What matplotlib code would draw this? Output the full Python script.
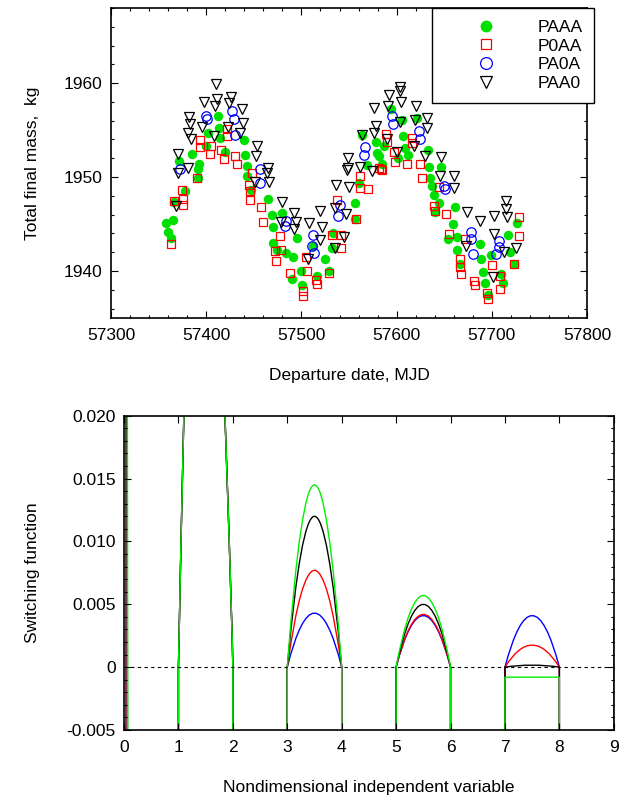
"""Total final mass over departure date (top) and switching functions (bottom)."""

import matplotlib

matplotlib.use("Agg")
import matplotlib.pyplot as plt  # noqa: E402
from matplotlib.patches import PathPatch  # noqa: E402
from matplotlib.path import Path  # noqa: E402
from matplotlib.ticker import FuncFormatter, MultipleLocator  # noqa: E402

plt.rcParams["font.family"] = ["Liberation Sans", "DejaVu Sans"]
plt.rcParams["font.size"] = 12.5

GREEN = "#00e000"
LIME = "#00f000"

# --- top panel: departure date (MJD) vs total final mass (kg) ---
PAAA_X = [57412, 57413, 57402, 57415, 57440, 57385, 57392, 57371, 57441, 57420,
          57400, 57578, 57579, 57569, 57443, 57594, 57606, 57621, 57607, 57587,
          57609, 57612, 57581, 57633, 57601, 57634, 57647, 57585, 57391, 57391,
          57378, 57366, 57365, 57358, 57360, 57363, 57443, 57447, 57465, 57469,
          57480, 57470, 57470, 57474, 57484, 57495, 57491, 57500, 57490, 57501,
          57512, 57516, 57525, 57529, 57532, 57533, 57556, 57556, 57560, 57635,
          57637, 57639, 57644, 57640, 57661, 57659, 57654, 57663, 57663, 57667,
          57688, 57689, 57691, 57693, 57696, 57699, 57710, 57712, 57717, 57719,
          57723, 57726, 57564]
PAAA_Y = [1956.5, 1955.2, 1954.7, 1954.2, 1953.9, 1952.5, 1951.4, 1951.7, 1952.3, 1952.7,
          1953.3, 1953.7, 1952.6, 1951.3, 1951.2, 1957.2, 1956.1, 1956.3, 1954.4, 1953.3,
          1953.1, 1952.3, 1952.2, 1952.9, 1952.0, 1951.1, 1951.1, 1951.4, 1950.9, 1949.9,
          1948.5, 1947.3, 1945.4, 1945.1, 1944.2, 1943.5, 1950.1, 1948.6, 1947.7, 1946.0,
          1946.2, 1944.7, 1943.0, 1942.2, 1941.9, 1943.5, 1941.5, 1940.0, 1939.2, 1938.5,
          1942.7, 1939.5, 1941.3, 1940.0, 1942.5, 1944.1, 1947.2, 1945.5, 1949.4, 1949.9,
          1949.0, 1948.1, 1947.2, 1946.3, 1946.8, 1945.0, 1943.4, 1943.6, 1942.2, 1940.8,
          1942.9, 1941.3, 1939.9, 1938.7, 1937.4, 1941.7, 1939.7, 1938.7, 1943.8, 1942.0,
          1940.7, 1945.1, 1954.5]

P0AA_X = [57394, 57394, 57405, 57404, 57422, 57422, 57416, 57419, 57430, 57432,
          57581, 57589, 57590, 57616, 57616, 57597, 57598, 57611, 57625, 57584,
          57375, 57376, 57376, 57366, 57363, 57390, 57448, 57445, 57446, 57446,
          57458, 57460, 57478, 57472, 57479, 57473, 57488, 57505, 57506, 57502,
          57502, 57515, 57516, 57529, 57537, 57532, 57542, 57542, 57557, 57561,
          57570, 57562, 57585, 57627, 57644, 57639, 57640, 57652, 57655, 57672,
          57666, 57667, 57668, 57681, 57682, 57695, 57696, 57700, 57709, 57709,
          57728, 57728, 57723]
P0AA_Y = [1953.9, 1953.2, 1953.3, 1952.5, 1955.1, 1954.4, 1952.9, 1951.9, 1952.2, 1951.4,
          1951.0, 1954.6, 1953.7, 1954.2, 1953.6, 1952.7, 1951.6, 1951.4, 1951.4, 1950.9,
          1948.6, 1947.7, 1947.0, 1947.4, 1942.9, 1949.9, 1950.4, 1949.2, 1948.5, 1947.6,
          1946.8, 1945.2, 1943.7, 1942.1, 1942.2, 1941.1, 1939.8, 1941.5, 1940.0, 1937.9,
          1937.3, 1939.0, 1938.6, 1939.8, 1947.6, 1943.8, 1943.8, 1942.4, 1945.5, 1950.1,
          1948.7, 1948.8, 1950.7, 1949.9, 1948.9, 1946.9, 1946.4, 1946.1, 1943.9, 1943.4,
          1941.3, 1940.4, 1939.7, 1938.9, 1938.5, 1937.7, 1937.0, 1940.6, 1939.5, 1938.1,
          1945.8, 1943.7, 1940.7]

PA0A_X = [57400, 57401, 57427, 57429, 57430, 57373, 57456, 57567, 57566, 57595,
          57596, 57623, 57624, 57457, 57483, 57484, 57512, 57511, 57513, 57540,
          57538, 57650, 57651, 57678, 57678, 57680, 57707, 57707, 57704]
PA0A_Y = [1956.5, 1956.2, 1957.0, 1956.2, 1954.5, 1950.9, 1950.9, 1953.2, 1952.4, 1956.5,
          1955.6, 1954.9, 1954.1, 1949.4, 1944.8, 1945.3, 1943.8, 1942.7, 1941.9, 1947.0,
          1945.9, 1949.1, 1948.7, 1944.2, 1943.4, 1941.8, 1943.2, 1942.6, 1941.8]

PAA0_X = [57410, 57398, 57411, 57409, 57426, 57424, 57438, 57382, 57383, 57381,
          57384, 57396, 57408, 57423, 57439, 57436, 57453, 57452, 57370, 57465,
          57381, 57549, 57576, 57578, 57576, 57564, 57549, 57562, 57604, 57604,
          57592, 57605, 57591, 57620, 57632, 57632, 57603, 57619, 57590, 57600,
          57618, 57630, 57647, 57370, 57368, 57464, 57466, 57451, 57480, 57492,
          57479, 57494, 57492, 57508, 57520, 57522, 57519, 57507, 57536, 57550,
          57548, 57535, 57547, 57545, 57535, 57574, 57646, 57660, 57660, 57674,
          57687, 57702, 57715, 57715, 57716, 57702, 57713, 57725, 57673, 57701]
PAA0_Y = [1959.9, 1958.0, 1958.3, 1957.6, 1958.5, 1957.9, 1957.2, 1956.4, 1955.6, 1954.7,
          1954.0, 1955.3, 1954.4, 1955.3, 1955.8, 1954.7, 1953.3, 1952.2, 1952.5, 1951.0,
          1951.0, 1952.0, 1957.4, 1955.4, 1954.7, 1954.5, 1951.0, 1951.1, 1959.6, 1959.2,
          1958.7, 1958.0, 1957.6, 1957.6, 1956.3, 1955.2, 1955.9, 1956.1, 1954.0, 1952.7,
          1953.3, 1952.2, 1952.1, 1950.4, 1946.9, 1950.4, 1949.5, 1949.5, 1947.3, 1946.2,
          1945.2, 1945.2, 1944.5, 1945.1, 1946.4, 1944.7, 1943.3, 1941.3, 1949.2, 1948.9,
          1950.7, 1946.7, 1946.1, 1943.6, 1942.5, 1950.6, 1950.1, 1950.1, 1948.8, 1946.3,
          1945.3, 1945.9, 1947.4, 1946.6, 1945.8, 1943.9, 1942.0, 1942.4, 1942.7, 1939.4]

# --- bottom panel: switching function per case ---
CASES = ["PA0A", "P0AA", "PAA0", "PAAA"]  # drawing order
CASE_COLORS = ["#0000ff", "#ff0000", "black", LIME]
COAST_LEVEL = -0.05  # off-scale negative value between burns
FIRST_DROP_X = [(0.030, 0.032), (0.032, 0.034), (0.055, 0.065), (0.060, 0.070)]
FIRST_ARC_X = [1.0, 1.01, 1.05, 1.10, 1.5, 1.855, 1.93, 1.99, 2.0]
FIRST_ARC_Y = [0.0, 0.002, 0.0105, 0.020, 0.080, 0.020, 0.0105, 0.002, 0.0]
BURN_START = [3, 5, 7]
BURN_END = [4, 6, 8]
ARC_PEAK = [
    [0.0043, 0.0041, 0.0041],
    [0.0077, 0.0042, 0.00175],
    [0.0120, 0.0050, 0.00016],
    [0.0145, 0.0057, -0.0008],
]
ARC_BASE = [
    [0.0, 0.0, 0.0],
    [0.0, 0.0, 0.0],
    [0.0, 0.0, 0.0],
    [0.0, 0.0, -0.0008],
]
END_Y = [0.0039, 0.0025, 0.0024, 0.0023]


def style_axes(ax):
    for spine in ax.spines.values():
        spine.set_linewidth(1.2)
    ax.tick_params(which="both", direction="in", top=True, right=True, width=0.8)
    ax.tick_params(which="major", length=5)
    ax.tick_params(which="minor", length=2.5)


def plot_mass(ax):
    ax.plot(PAAA_X, PAAA_Y, "o", ms=6.8, color=GREEN, mec="none", label="PAAA")
    ax.plot(P0AA_X, P0AA_Y, "s", ms=6.3, mfc="none", mec="#ff0000", mew=0.9,
            label="P0AA")
    ax.plot(PA0A_X, PA0A_Y, "o", ms=6.8, mfc="none", mec="#0000ff", mew=0.9,
            label="PA0A")
    ax.plot(PAA0_X, PAA0_Y, "v", ms=7.0, mfc="none", mec="black", mew=0.9,
            label="PAA0")
    ax.set_xlim(57300, 57800)
    ax.set_ylim(1935, 1968)
    ax.xaxis.set_major_locator(MultipleLocator(100))
    ax.xaxis.set_minor_locator(MultipleLocator(20))
    ax.yaxis.set_major_locator(MultipleLocator(10))
    ax.yaxis.set_minor_locator(MultipleLocator(2))
    ax.tick_params(axis="x", pad=7)
    ax.tick_params(axis="y", pad=6)
    ax.set_xlabel("Departure date, MJD", labelpad=18)
    ax.set_ylabel("Total final mass,  kg", labelpad=17)
    style_axes(ax)
    legend = ax.legend(
        loc="upper right",
        bbox_to_anchor=(1.0147, 1.0),
        borderaxespad=0,
        fancybox=False,
        framealpha=1,
        edgecolor="black",
        markerscale=1.25,
        handlelength=4.9,
        handletextpad=0.5,
        labelspacing=0.2,
        borderpad=0.68,
    )
    legend.get_frame().set_linewidth(1.0)


def switching_path(drop_x, peaks, bases, end_y):
    verts = [(drop_x[0], 0.03), (drop_x[1], -0.01), (drop_x[1], COAST_LEVEL),
             (FIRST_ARC_X[0], COAST_LEVEL)]
    codes = [Path.MOVETO] + [Path.LINETO] * 3
    verts += list(zip(FIRST_ARC_X, FIRST_ARC_Y))
    codes += [Path.LINETO] * len(FIRST_ARC_X)
    verts.append((FIRST_ARC_X[-1], COAST_LEVEL))
    codes.append(Path.LINETO)
    for start, end, peak, base in zip(BURN_START, BURN_END, peaks, bases):
        mid = (start + end) / 2
        verts += [(start, COAST_LEVEL), (start, base), (mid, 2 * peak - base),
                  (end, base), (end, COAST_LEVEL)]
        codes += [Path.LINETO, Path.LINETO, Path.CURVE3, Path.CURVE3, Path.LINETO]
    verts += [(9, COAST_LEVEL), (9, end_y)]
    codes += [Path.LINETO, Path.LINETO]
    return Path(verts, codes)


def plot_switching(ax):
    ax.axhline(0, color="black", lw=0.8, ls=(0, (3, 3)))
    for i, color in enumerate(CASE_COLORS):
        path = switching_path(FIRST_DROP_X[i], ARC_PEAK[i], ARC_BASE[i], END_Y[i])
        ax.add_patch(PathPatch(path, fill=False, edgecolor=color, lw=1.0))
    ax.set_xlim(0, 9)
    ax.set_ylim(-0.005, 0.020)
    ax.xaxis.set_major_locator(MultipleLocator(1))
    ax.yaxis.set_major_locator(MultipleLocator(0.005))
    ax.yaxis.set_minor_locator(MultipleLocator(0.001))
    ax.yaxis.set_major_formatter(
        FuncFormatter(lambda v, _: "0" if abs(v) < 1e-9 else f"{v:.3f}")
    )
    ax.tick_params(axis="x", pad=7)
    ax.tick_params(axis="y", pad=6)
    ax.set_xlabel("Nondimensional independent variable", labelpad=18)
    ax.set_ylabel("Switching function", labelpad=19)
    style_axes(ax)


def main():
    fig = plt.figure(figsize=(6.2, 7.95), dpi=100)
    top = fig.add_axes([0.179, 0.600, 0.768, 0.390])
    bottom = fig.add_axes([0.200, 0.0818, 0.790, 0.3953])
    plot_mass(top)
    plot_switching(bottom)
    fig.savefig("out.png", dpi=100)


if __name__ == "__main__":
    main()
